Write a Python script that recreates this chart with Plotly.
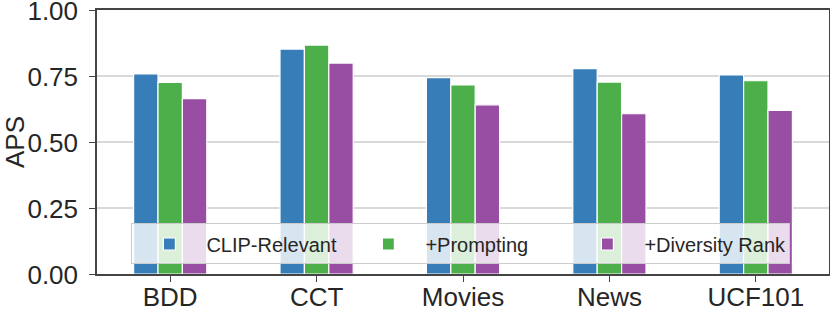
import plotly.graph_objects as go

categories = ["BDD", "CCT", "Movies", "News", "UCF101"]
clip_relevant = [0.758, 0.852, 0.744, 0.778, 0.754]
prompting = [0.726, 0.867, 0.716, 0.727, 0.732]
diversity_rank = [0.664, 0.799, 0.641, 0.607, 0.620]
series_names = ["CLIP-Relevant", "+Prompting", "+Diversity Rank"]
y_ticks = [0.0, 0.25, 0.5, 0.75, 1.0]
y_tick_labels = ["0.00", "0.25", "0.50", "0.75", "1.00"]

colors = ["#377eb8", "#4daf4a", "#984ea3"]
FONT = "Liberation Sans, Arial, sans-serif"

fig = go.Figure()
for name, vals, c in zip(series_names, [clip_relevant, prompting, diversity_rank], colors):
    fig.add_trace(go.Bar(x=categories, y=vals, name=name,
                         marker=dict(color=c, line=dict(color="white", width=1.2))))

fig.update_layout(
    width=830, height=311,
    margin=dict(l=97, r=1, t=10, b=37, autoexpand=False),
    paper_bgcolor="white", plot_bgcolor="white",
    barmode="group", bargap=0.5, bargroupgap=0.0,
    font=dict(family=FONT, color="#262626", size=26),
    legend=dict(
        orientation="h", x=0.047, y=0.036, xanchor="left", yanchor="bottom",
        bgcolor="rgba(255,255,255,0.8)", bordercolor="#cccccc", borderwidth=1,
        font=dict(size=20, family=FONT, color="#262626"),
        entrywidth=140, entrywidthmode="pixels", itemwidth=64,
    ),
)
fig.update_xaxes(
    range=[-0.5, 4.5], automargin=False,
    showline=True, linecolor="#444444", linewidth=1.5, mirror=True,
    ticks="outside", ticklen=6, tickwidth=1.3, tickcolor="#444444",
    tickfont=dict(size=26), ticklabelstandoff=-7, ticklabeloverflow="allow",
    showgrid=False,
)
fig.update_yaxes(
    range=[0, 1], tickvals=y_ticks, ticktext=y_tick_labels, automargin=True,
    showline=True, linecolor="#444444", linewidth=1.5, mirror=True,
    ticks="outside", ticklen=6, tickwidth=1.3, tickcolor="#444444",
    tickfont=dict(size=26), ticklabelstandoff=6, ticklabelshift=1,
    ticklabeloverflow="allow",
    showgrid=True, gridcolor="#d9d9d9", gridwidth=1.5,
    title=dict(text="APS", font=dict(size=26), standoff=18), zeroline=False,
)
fig.write_html("out.html", config={"displayModeBar": False},
               post_script="document.body.style.margin='0';")
